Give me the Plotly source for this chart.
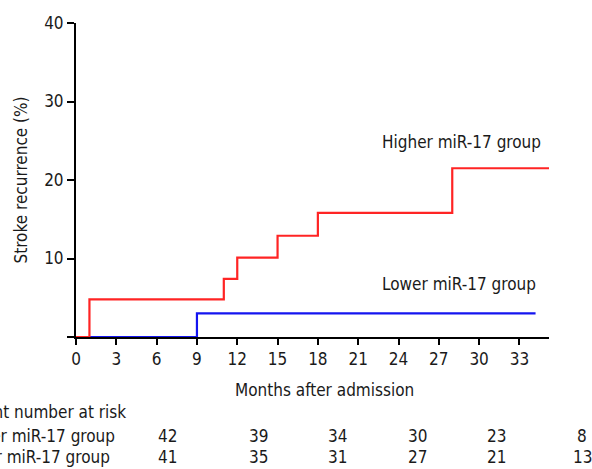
import plotly.graph_objects as go

# ---- data ----
higher_months = [0, 1, 11, 12, 15, 18, 28, 35.2]
higher_recurrence = [0, 4.8, 7.4, 10.1, 12.9, 15.8, 21.5, 21.5]
lower_months = [0, 9, 34.2]
lower_recurrence = [0, 3.0, 3.0]

x_ticks = [0, 3, 6, 9, 12, 15, 18, 21, 24, 27, 30, 33]
y_ticks = [0, 10, 20, 30, 40]

x_title = "Months after admission"
y_title = "Stroke recurrence (%)"
risk_title = "Patient number at risk"
risk_groups = ["Higher miR-17 group", "Lower miR-17 group"]
risk_higher = [42, 39, 34, 30, 23, 8]
risk_lower = [41, 35, 31, 27, 21, 13]

# ---- layout geometry (pixels) ----
W, H = 592, 469
L, R, T, B = 76, 43, 23, 132
PW, PH = W - L - R, H - T - B
FONT = "DejaVu Sans Condensed, DejaVu Sans, Verdana, sans-serif"
FS = 17
RED = "#ff2424"
BLUE = "#1414f0"

def px_x(p):
    return (p - L) / PW

def px_y(p):
    return (H - B - p) / PH

risk_col_px = [167, 258, 337, 417, 496, 582]
risk_row_px = [412, 436, 457]
risk_label_left_px = -46
x_title_px = (324, 390)

fig = go.Figure()
fig.add_trace(go.Scatter(x=lower_months, y=lower_recurrence, mode="lines",
                         line=dict(color=BLUE, width=2.2, shape="hv"),
                         name="Lower miR-17 group", showlegend=False))
fig.add_trace(go.Scatter(x=higher_months, y=higher_recurrence, mode="lines",
                         line=dict(color=RED, width=2.2, shape="hv"),
                         name="Higher miR-17 group", showlegend=False))

ann = []
ann.append(dict(x=22.6, y=24.9, xref="x", yref="y", text="Higher miR-17 group",
                xanchor="left", yanchor="middle", showarrow=False))
ann.append(dict(x=22.6, y=6.8, xref="x", yref="y", text="Lower miR-17 group",
                xanchor="left", yanchor="middle", showarrow=False))
ann.append(dict(x=px_x(x_title_px[0]), y=px_y(x_title_px[1]), xref="paper", yref="paper",
                text=x_title, xanchor="center", yanchor="middle", showarrow=False))

ann.append(dict(x=px_x(risk_label_left_px), y=px_y(risk_row_px[0]), xref="paper", yref="paper",
                text=risk_title, xanchor="left", yanchor="middle", showarrow=False))
for i, (g, vals) in enumerate(zip(risk_groups, [risk_higher, risk_lower])):
    ann.append(dict(x=px_x(risk_label_left_px), y=px_y(risk_row_px[i + 1]), xref="paper", yref="paper",
                    text=g, xanchor="left", yanchor="middle", showarrow=False))
    for cx, v in zip(risk_col_px, vals):
        ann.append(dict(x=px_x(cx), y=px_y(risk_row_px[i + 1]), xref="paper", yref="paper",
                        text=str(v), xanchor="center", yanchor="middle", showarrow=False))

fig.update_layout(
    width=W, height=H,
    margin=dict(l=L, r=R, t=T, b=B, autoexpand=False),
    paper_bgcolor="white", plot_bgcolor="white",
    font=dict(family=FONT, size=FS, color="#1a1a1a"),
    annotations=ann,
    xaxis=dict(range=[0, 35.2], tickvals=x_ticks, showgrid=False, zeroline=False,
               showline=True, linecolor="black", linewidth=2,
               ticks="outside", ticklen=6, tickwidth=2, tickcolor="black",
               tickfont=dict(size=FS),
               layer="below traces"),
    yaxis=dict(range=[0, 40], tickvals=y_ticks, ticktext=["", "10", "20", "30", "40"],
               showgrid=False, zeroline=False,
               showline=True, linecolor="black", linewidth=2,
               ticks="outside", ticklen=7, tickwidth=2, tickcolor="black",
               tickfont=dict(size=FS),
               layer="below traces",
               title=dict(text=y_title, standoff=12, font=dict(size=FS))),
)

fig.write_html("out.html", config={"displayModeBar": False},
               post_script="document.body.style.margin='0';document.body.style.overflow='hidden';")
